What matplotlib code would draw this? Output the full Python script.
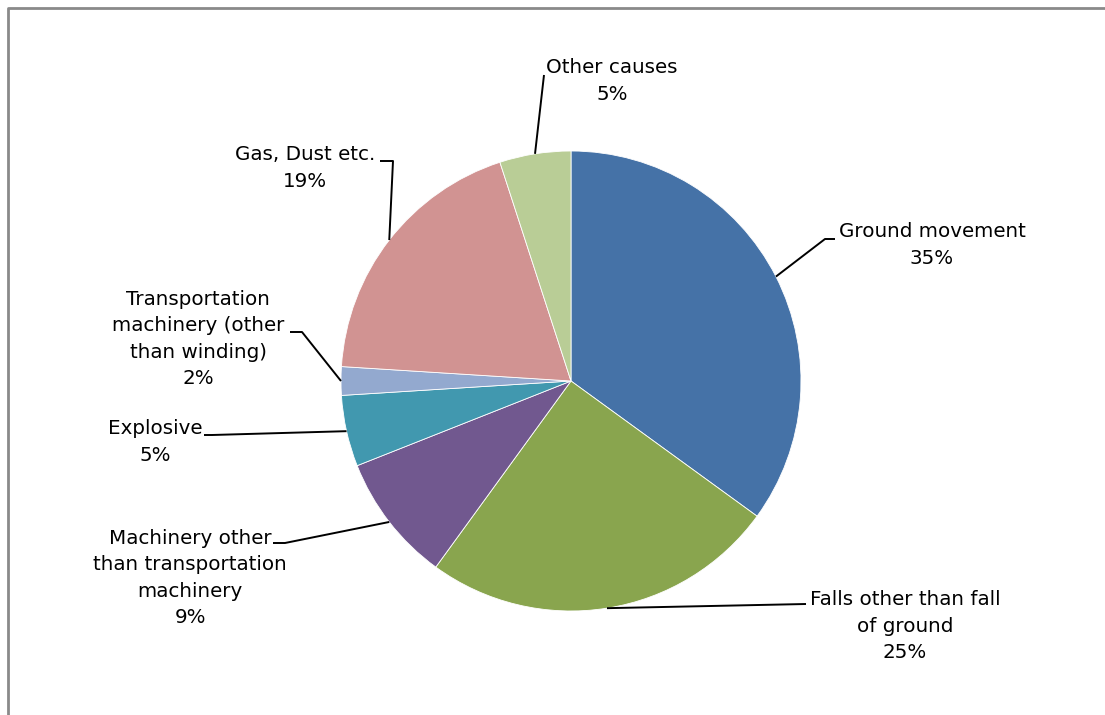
import numpy as np
import matplotlib.pyplot as plt

# causes of accidents and their share (%)
causes = ["Ground movement",
          "Falls other than fall\nof ground",
          "Machinery other\nthan transportation\nmachinery",
          "Explosive",
          "Transportation\nmachinery (other\nthan winding)",
          "Gas, Dust etc.",
          "Other causes"]
shares = [35, 25, 9, 5, 2, 19, 5]
colours = ["#4572A7", "#89A54E", "#71588F", "#4198AF", "#93A9CF", "#D19392", "#B9CD96"]

W, H = 1105, 715

# label centres and leader line bends (pixel coords, y down)
label_xy = [(932, 245), (905, 626), (190, 578), (155, 442), (198, 339), (305, 168), (612, 81)]
bends = [[(825, 239), (835, 239)],
         [(806, 604)],
         [(285, 543), (273, 543)],
         [(212, 435), (204, 435)],
         [(302, 332), (290, 332)],
         [(393, 161), (380, 161)],
         [(544, 75)]]

plt.rcParams['font.family'] = ['DejaVu Sans']

fig = plt.figure(figsize=(W / 100, H / 100), dpi=100)
ax = fig.add_axes([0, 0, 1, 1])

def px(x, y):
    return x, H - y

cx, cy = px(571, 381)
R = 230
wedges, _ = ax.pie(shares, colors=colours, startangle=90, counterclock=False,
                   center=(cx, cy), radius=R,
                   wedgeprops=dict(edgecolor='white', linewidth=0.6))

for w, name, share, pos, bend in zip(wedges, causes, shares, label_xy, bends):
    mid = np.deg2rad((w.theta1 + w.theta2) / 2)
    ex, ey = cx + R * np.cos(mid), cy + R * np.sin(mid)
    pts = [(ex, ey)] + [px(*b) for b in bend]
    xs, ys = zip(*pts)
    ax.plot(xs, ys, color='black', lw=1.4, solid_capstyle='butt')
    tx, ty = px(*pos)
    ax.text(tx, ty, f"{name}\n{share}%", ha='center', va='center',
            multialignment='center', fontsize=14.3, linespacing=1.5)

# chart frame (only top and left edges fall inside the image)
ax.plot([8, 8, W], [0, H - 8, H - 8], color='#8a8a8a', lw=2)

ax.set_xlim(0, W)
ax.set_ylim(0, H)
ax.set_aspect('equal')
ax.axis('off')

fig.savefig('out.png', dpi=100, facecolor='white')
